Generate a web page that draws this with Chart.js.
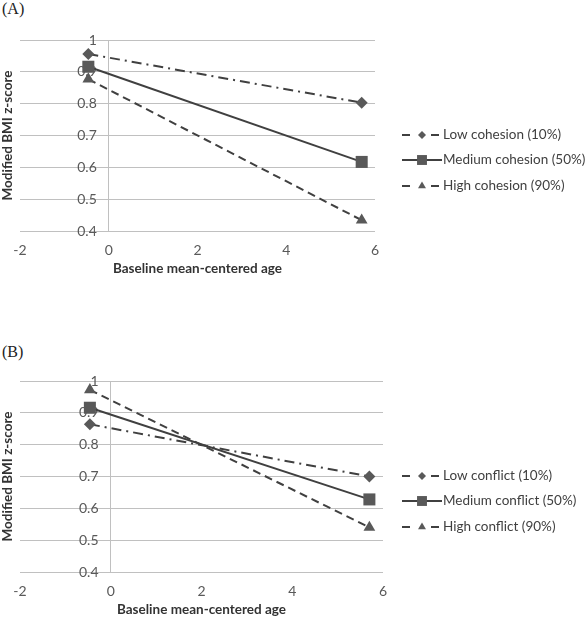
<!DOCTYPE html>
<html>
<head>
<meta charset="utf-8">
<script src="https://cdn.jsdelivr.net/npm/chart.js@4.4.1/dist/chart.umd.min.js"></script>
<style>
  html, body { margin: 0; padding: 0; background: #fff; overflow: hidden; }
  .panel { position: absolute; left: 0; width: 585px; }
  .tag { position: absolute; left: 2px; font: 16px "Liberation Serif", "DejaVu Serif", serif; color: #222; }
</style>
</head>
<body>
<div class="tag" style="top: 0px;">(A)</div>
<div class="panel" style="top: 0px; height: 300px;"><canvas id="chartA"></canvas></div>
<div class="tag" style="top: 343px;">(B)</div>
<div class="panel" style="top: 300px; height: 320px;"><canvas id="chartB"></canvas></div>
<script>
// x positions of the two predicted points (baseline mean-centered age)
const ageX = [-0.46, 5.7];

// panel A: family cohesion
const cohesionLabels = ['Low cohesion (10%)', 'Medium cohesion (50%)', 'High cohesion (90%)'];
const cohesionLow = [0.956, 0.803];
const cohesionMed = [0.916, 0.617];
const cohesionHigh = [0.877, 0.434];

// panel B: family conflict
const conflictLabels = ['Low conflict (10%)', 'Medium conflict (50%)', 'High conflict (90%)'];
const conflictLow = [0.864, 0.700];
const conflictMed = [0.916, 0.628];
const conflictHigh = [0.972, 0.540];

const yTicks = [0.4, 0.5, 0.6, 0.7, 0.8, 0.9, 1];
const xTicks = [-2, 0, 2, 4, 6];

const lineColor = '#404040';
const markColor = '#595959';
const gridColor = '#c0c0c0';

const styles = [
    { dash: [10, 5, 2, 5], point: 'rectRot', r: 6, lr: 4 },
    { dash: [], point: 'rect', r: 8.5, lr: 7 },
    { dash: [8, 5], point: 'triangle', r: 6.8, lr: 4.6 }
];

function toPoints(ys) {
    return ys.map(function (y, i) { return { x: ageX[i], y: y }; });
}

function marker(ctx, type, x, y, r) {
    ctx.beginPath();
    if (type === 'rectRot') {
        ctx.moveTo(x, y - r); ctx.lineTo(x + r, y); ctx.lineTo(x, y + r); ctx.lineTo(x - r, y);
    } else if (type === 'rect') {
        const s = r * Math.SQRT1_2;
        ctx.rect(x - s, y - s, 2 * s, 2 * s);
    } else {
        const h = r * 1.5, w = r * Math.sqrt(3) / 2;
        ctx.moveTo(x, y - r); ctx.lineTo(x + w, y - r + h); ctx.lineTo(x - w, y - r + h);
    }
    ctx.closePath();
    ctx.fill();
}

// legend with line sample + marker, drawn to the right of the plot
const sideLegend = {
    id: 'sideLegend',
    afterDraw(chart, args, opts) {
        const ctx = chart.ctx;
        ctx.save();
        chart.data.datasets.forEach(function (ds, i) {
            const st = styles[i];
            const y = opts.ys[i];
            const x0 = opts.x;
            ctx.strokeStyle = lineColor;
            ctx.lineWidth = 2;
            ctx.setLineDash([]);
            ctx.beginPath();
            if (st.dash.length) {
                ctx.moveTo(x0, y); ctx.lineTo(x0 + 8, y);
                ctx.moveTo(x0 + 29, y); ctx.lineTo(x0 + 37, y);
            } else {
                ctx.moveTo(x0, y); ctx.lineTo(x0 + 40, y);
            }
            ctx.stroke();
            ctx.fillStyle = markColor;
            marker(ctx, st.point, x0 + 20, y, st.lr);
            ctx.fillStyle = '#404040';
            ctx.font = '13.5px Lato';
            ctx.textBaseline = 'middle';
            ctx.textAlign = 'left';
            ctx.fillText(ds.label, x0 + 41, y);
        });
        ctx.restore();
    }
};

function makeChart(id, labels, series, pad, legendYs) {
    const datasets = series.map(function (ys, i) {
        const st = styles[i];
        return {
            label: labels[i],
            data: toPoints(ys),
            showLine: true,
            borderColor: lineColor,
            borderWidth: 2,
            borderDash: st.dash,
            pointStyle: st.point,
            pointRadius: st.r,
            pointBackgroundColor: markColor,
            pointBorderColor: markColor,
            pointBorderWidth: 0
        };
    });
    return new Chart(document.getElementById(id), {
        type: 'scatter',
        data: { datasets: datasets },
        options: {
            responsive: true,
            maintainAspectRatio: false,
            animation: false,
            layout: { padding: pad },
            plugins: {
                legend: { display: false },
                tooltip: { enabled: false },
                sideLegend: { x: 402, ys: legendYs }
            },
            scales: {
                x: {
                    type: 'linear',
                    position: 'bottom',
                    min: -2, max: 6,
                    afterBuildTicks: function (scale) { scale.ticks = xTicks.map(function (v) { return { value: v }; }); },
                    // only the line at x = 0 is shown (the vertical axis)
                    grid: {
                        drawTicks: false,
                        color: function (c) { return c.tick && c.tick.value === 0 ? gridColor : 'rgba(0,0,0,0)'; }
                    },
                    border: { display: false },
                    ticks: { padding: 11, color: '#595959', font: { family: 'Lato', size: 14 } },
                    title: {
                        display: true, text: 'Baseline mean-centered age', color: '#333',
                        padding: 0, font: { family: 'Lato', size: 13.5, weight: 'bold' }
                    },
                    afterFit: function (scale) { scale.height = 46; }
                },
                y: {
                    type: 'linear',
                    // labels sit just left of the x = 0 line
                    position: { x: -0.27 },
                    min: 0.4, max: 1,
                    afterBuildTicks: function (scale) { scale.ticks = yTicks.map(function (v) { return { value: v }; }); },
                    grid: { color: gridColor, lineWidth: 1, drawTicks: false },
                    border: { display: false },
                    ticks: {
                        color: '#595959', font: { family: 'Lato', size: 14 },
                        callback: function (v) { return String(+v.toFixed(1)); }
                    }
                },
                yTitle: {
                    type: 'linear',
                    position: 'left',
                    grid: { display: false },
                    border: { display: false },
                    ticks: { display: false },
                    title: {
                        display: true, text: 'Modified BMI z-score', color: '#333',
                        padding: 0, font: { family: 'Lato', size: 13.5, weight: 'bold' }
                    },
                    afterFit: function (scale) { scale.width = 20; }
                }
            }
        },
        plugins: [sideLegend]
    });
}

makeChart('chartA', cohesionLabels, [cohesionLow, cohesionMed, cohesionHigh],
    { left: 0, right: 210, top: 40, bottom: 23 }, [135, 160, 186]);
makeChart('chartB', conflictLabels, [conflictLow, conflictMed, conflictHigh],
    { left: 0, right: 202, top: 81, bottom: 2 }, [176, 201, 227]);
</script>
</body>
</html>
